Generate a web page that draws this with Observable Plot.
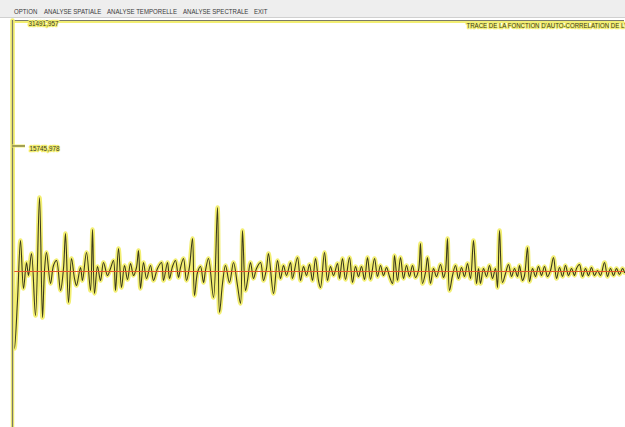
<!DOCTYPE html>
<html>
<head>
<meta charset="utf-8">
<script src="https://cdn.jsdelivr.net/npm/d3@7"></script>
<script src="https://cdn.jsdelivr.net/npm/@observablehq/plot@0.6"></script>
<style>
  html, body { margin: 0; padding: 0; background: #fff; overflow: hidden; width: 625px; height: 427px; }
  #menu { position: relative; width: 625px; height: 17px; background: #eeeeee; border-bottom: 1px solid #d0d0d0; }
  #menu svg { position: absolute; left: 0; top: 0; }
  #chart svg { display: block; }
</style>
</head>
<body>
<div id="menu"></div>
<div id="chart"></div>
<script>
// ---- data ----
const menuItems = ["OPTION", "ANALYSE SPATIALE", "ANALYSE TEMPORELLE", "ANALYSE SPECTRALE", "EXIT"];
const title = "TRACE DE LA FONCTION D'AUTO-CORRELATION DE L'E";
const yMax = 31491.957;
const yMid = 15745.978;
const tickLabels = ["31491,957", "15745,978"];

const lags = [0,2,5,8,11,14,16,19,23,27,30,32,34,38,41,44,48,51,53,56,59,62,64,68,70,74,78,80,82,85,88,91,95,98,101,103,106,109,112,115,118,121,124,126,128,131,134,138,141,145,149,151,155,157,160,163,166,168,171,174,177,180,182,185,188,191,193,196,201,205,207,210,213,217,221,225,228,230,233,235,238,241,244,248,251,254,256,261,265,268,271,274,278,280,285,288,291,294,297,300,303,306,308,312,315,318,321,325,327,330,333,337,340,343,346,349,352,355,358,362,365,368,371,374,377,380,382,385,388,391,394,397,400,403,406,408,410,413,415,418,421,424,428,431,433,435,437,440,443,446,449,452,455,458,461,464,466,468,471,474,477,480,483,485,487,490,493,496,499,502,505,507,510,512,515,517,520,523,526,529,532,535,538,541,544,547,550,553,556,559,562,564,567,570,573,576,579,582,585,588,592,595,598,601,604,607,610,612];
const acf = [31492,-9664,-3640,3891,-2134,1130,-502,2259,-5522,9287,-5773,126,2385,-1506,753,1381,-2385,377,4769,-3891,1632,-879,-1757,502,-1130,2385,-2385,5271,-2761,628,-1130,1130,-502,377,1381,-2385,2887,-2008,753,-1004,1004,-502,502,2636,-2134,1130,-879,753,-1130,377,1130,-1130,1130,-879,628,1381,-753,502,1632,-1130,628,4142,-3012,-126,628,-1381,126,1632,-3263,8032,-5146,-1506,753,-1381,1130,-1757,-4016,5146,-2385,-1130,1130,-879,377,1130,-1130,377,2259,-2761,1381,-879,753,-502,1130,-879,1757,-1130,628,-502,879,-1130,1632,-1130,-2008,2385,-1130,628,-502,1004,-879,1632,-1004,1757,-1381,628,-628,628,-1004,1757,-1004,1632,-628,753,-502,502,-628,-1506,2008,-1130,1757,-879,753,-628,753,-753,126,3514,-1506,-126,1757,-1506,377,-628,879,-753,126,4142,-2385,-502,753,-879,502,-628,1004,-879,3891,-1506,377,-1506,377,-628,753,-879,377,-2008,5146,-1381,-251,879,-628,377,-628,753,-1130,-502,3012,-1255,377,-628,628,-502,628,-628,126,1757,-879,502,-628,753,-502,377,-502,377,879,-628,377,-502,502,-502,126,-502,1130,-628,377,-502,377,-377,377,-126];

const series = lags.map((lag, i) => ({lag, value: acf[i]}));

// ---- colours ----
const yellow = "#f2ee72";
const dark = "#3b3a1c";
const frameGray = "#7a7a6a";
const red = "#e4552a";

// ---- menu bar ----
const menuX = [14, 44, 107, 183, 254];
const menuScale = 0.8;
const menuSvg = d3.select("#menu").append("svg").attr("width", 625).attr("height", 17);
menuSvg.selectAll("g").data(menuItems).join("g")
  .attr("transform", (d, i) => `translate(${menuX[i]},14) scale(${menuScale},1)`)
  .append("text")
  .attr("font-family", "Liberation Sans, Arial, sans-serif")
  .attr("font-size", 7.6).attr("fill", "#3a3a3a")
  .text(d => d);

// ---- chart ----
const chart = Plot.plot({
  width: 625,
  height: 409,
  marginLeft: 12,
  marginRight: 1,
  marginTop: 2,
  marginBottom: 0,
  x: {domain: [0, 612], axis: null},
  y: {domain: [-19573, yMax], axis: null},
  style: {fontFamily: "Liberation Sans, Arial, sans-serif", background: "transparent", overflow: "hidden"},
  marks: [
    // frame top
    Plot.ruleY([yMax], {stroke: yellow, strokeWidth: 3, dy: 1}),
    Plot.ruleY([yMax], {stroke: frameGray, strokeWidth: 1}),
    // signal
    Plot.line(series, {x: "lag", y: "value", curve: "catmull-rom", stroke: yellow, strokeWidth: 4.5, strokeLinejoin: "round"}),
    Plot.line(series, {x: "lag", y: "value", curve: "catmull-rom", stroke: dark, strokeWidth: 1.1, strokeLinejoin: "round"}),
    // zero line
    Plot.ruleY([0], {stroke: red, strokeWidth: 1}),
    // y axis
    Plot.ruleX([0], {stroke: yellow, strokeWidth: 3.5}),
    Plot.ruleX([0], {stroke: frameGray, strokeWidth: 1.2}),
    // mid tick
    Plot.ruleY([yMid], {x1: 0, x2: 13, stroke: yellow, strokeWidth: 3}),
    Plot.ruleY([yMid], {x1: 0, x2: 13, stroke: "#55533a", strokeWidth: 1}),
    // labels
    Plot.text([yMax], {x: 16, y: d => d, text: () => tickLabels[0], textAnchor: "start", dy: 3, fontSize: 7.5, fill: "#3a3a20", stroke: yellow, strokeWidth: 2.5}),
    Plot.text([yMid], {x: 17, y: d => d, text: () => tickLabels[1], textAnchor: "start", dy: 2.5, fontSize: 7.5, fill: "#3a3a20", stroke: yellow, strokeWidth: 2.5}),
    Plot.text([yMax], {x: 454, y: d => d, text: () => title, textAnchor: "start", dy: 5, fontSize: 7.5, fill: "#3a3a20", stroke: yellow, strokeWidth: 2.5})
  ]
});

// condensed old-style font widths
const widths = {"31491,957": 30, "15745,978": 30};
widths[title] = 163;
d3.select(chart).selectAll("text").each(function() {
  const t = this.textContent;
  if (widths[t]) {
    d3.select(this).attr("textLength", widths[t]).attr("lengthAdjust", "spacingAndGlyphs");
  }
});
document.getElementById("chart").appendChild(chart);
</script>
</body>
</html>
